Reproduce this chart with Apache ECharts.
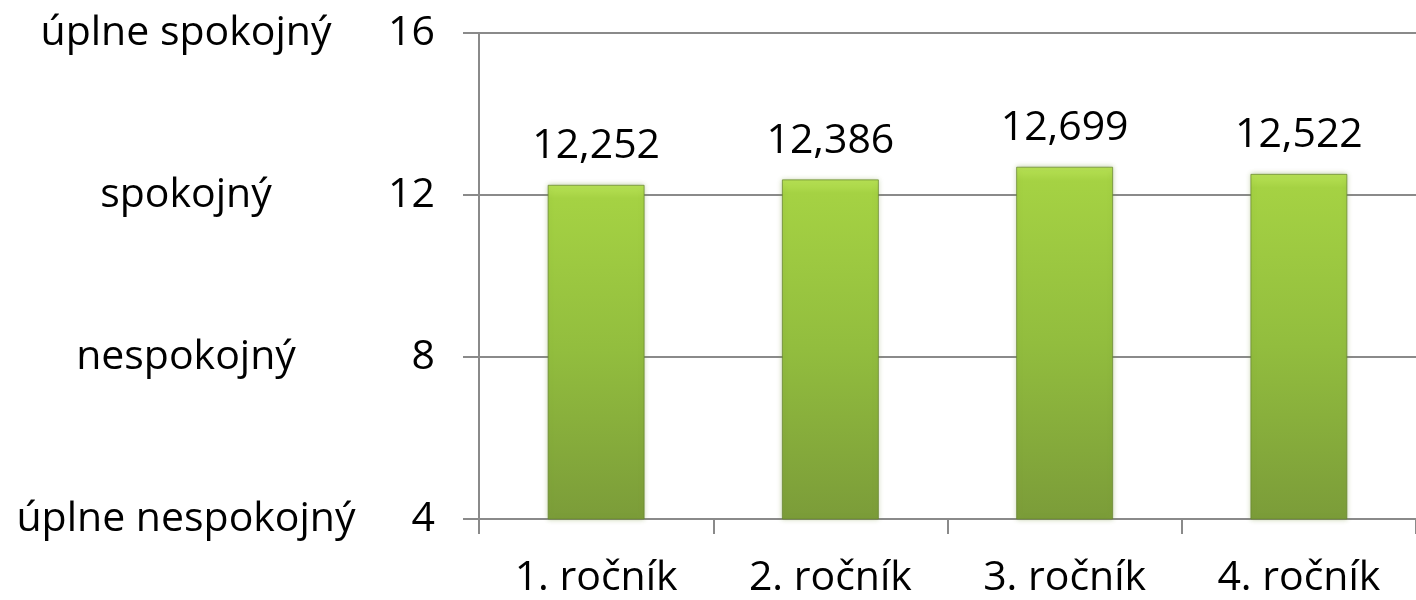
<!DOCTYPE html>
<html>
<head>
<meta charset="utf-8">
<script src="https://cdn.jsdelivr.net/npm/echarts@6/dist/echarts.min.js"></script>
<style>
  html, body { margin: 0; padding: 0; background: #ffffff; }
  #chart { width: 1416px; height: 600px; }
</style>
</head>
<body>
<div id="chart"></div>
<script>
// ---- data ----
var categories = ['1. ročník', '2. ročník', '3. ročník', '4. ročník'];
var values = [12.252, 12.386, 12.699, 12.522];
var tickValues = [4, 8, 12, 16];
var levelNames = ['úplne nespokojný', 'nespokojný', 'spokojný', 'úplne spokojný'];

var FONT = 'Open Sans';
var GRID_COLOR = '#8a8a8a';

function levelLabel(v) {
  var i = tickValues.indexOf(v);
  return i >= 0 ? levelNames[i] : '';
}
function fmt(v) {
  return v.toFixed(3).replace('.', ',');
}

var chart = echarts.init(document.getElementById('chart'), null, { renderer: 'canvas' });

var option = {
  backgroundColor: '#ffffff',
  animation: false,
  grid: { left: 479, top: 33, width: 956, height: 486, containLabel: false },
  xAxis: {
    type: 'category',
    data: categories,
    axisLine: { show: true, lineStyle: { color: GRID_COLOR, width: 2 } },
    axisTick: { show: true, alignWithLabel: false, length: 15, lineStyle: { color: GRID_COLOR, width: 2 } },
    axisLabel: { color: '#000', fontFamily: FONT, fontSize: 41, margin: 39 },
    splitLine: { show: false }
  },
  yAxis: [
    {
      type: 'value',
      min: 4, max: 16, interval: 4,
      position: 'left',
      axisLine: { show: true, lineStyle: { color: GRID_COLOR, width: 2 } },
      axisTick: { show: true, inside: false, length: 16, lineStyle: { color: GRID_COLOR, width: 2 } },
      axisLabel: { color: '#000', fontFamily: FONT, fontSize: 41, margin: 44 },
      splitLine: { show: true, lineStyle: { color: GRID_COLOR, width: 2 } }
    },
    {
      type: 'value',
      min: 4, max: 16, interval: 4,
      position: 'left',
      offset: 293,
      axisLine: { show: false },
      axisTick: { show: false },
      splitLine: { show: false },
      axisLabel: {
        color: '#000', fontFamily: FONT, fontSize: 41, margin: 0, align: 'center',
        formatter: function (v) { return levelLabel(v); }
      }
    }
  ],
  series: [
    {
      type: 'bar',
      yAxisIndex: 0,
      data: values,
      barWidth: 97,
      itemStyle: {
        color: new echarts.graphic.LinearGradient(0, 0, 0, 1, [
          { offset: 0, color: '#b8e255' },
          { offset: 0.04, color: '#a5d243' },
          { offset: 0.5, color: '#92bd3e' },
          { offset: 1, color: '#7b9c39' }
        ]),
        borderColor: 'rgba(100,130,45,0.7)',
        borderWidth: 1,
        shadowBlur: 5,
        shadowColor: 'rgba(120,150,60,0.45)'
      },
      label: {
        show: true,
        position: 'top',
        distance: 18,
        color: '#000',
        fontFamily: FONT,
        fontSize: 41,
        formatter: function (p) { return fmt(p.value); }
      }
    }
  ]
};

chart.setOption(option);
</script>
</body>
</html>
